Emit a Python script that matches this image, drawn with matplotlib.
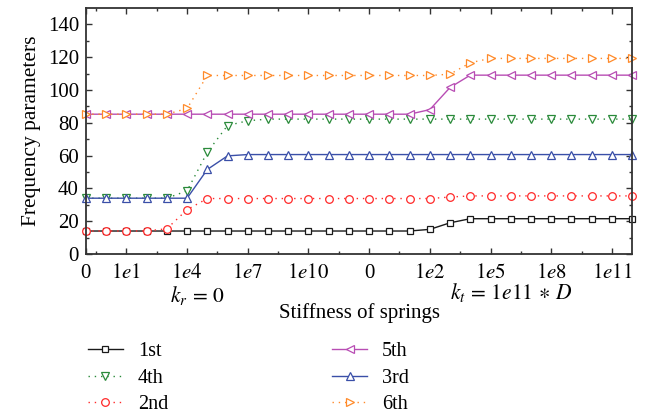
import matplotlib
matplotlib.use("Agg")
import matplotlib.pyplot as plt
import matplotlib.transforms as mtransforms

plt.rcParams['font.family'] = ['Liberation Serif', 'DejaVu Serif']
plt.rcParams['mathtext.fontset'] = 'stix'

# one point per stiffness step (k_r sweep, then k_t sweep)
steps = list(range(28))
tick_pos = [0, 2, 5, 8, 11, 14, 17, 20, 23, 26]
tick_labels = ['0', '$1e1$', '$1e4$', '$1e7$', '$1e10$',
               '0', '$1e2$', '$1e5$', '$1e8$', '$1e11$']

first = [14, 14, 14, 14, 14, 14, 14, 14, 14, 14, 14, 14, 14, 14,
         14, 14, 14, 15, 19, 21.5, 21.5, 21.5, 21.5, 21.5, 21.5, 21.5, 21.5, 21.5]
second = [14, 14, 14, 14, 15.4, 27, 33.8, 33.8, 33.8, 33.8, 33.8, 33.8, 33.8, 33.8,
          33.8, 33.8, 33.8, 33.8, 34.7, 35.4, 35.4, 35.4, 35.4, 35.4, 35.4, 35.4, 35.4, 35.4]
third = [34, 34, 34, 34, 34, 34, 51.5, 59.8, 60.6, 60.6, 60.6, 60.6, 60.6, 60.6,
         60.6, 60.6, 60.6, 60.6, 60.6, 60.6, 60.6, 60.6, 60.6, 60.6, 60.6, 60.6, 60.6, 60.6]
fourth = [34, 34, 34, 34, 34, 38.5, 62, 78.3, 81.2, 82.2, 82.2, 82.2, 82.2, 82.2,
          82.2, 82.2, 82.2, 82.2, 82.2, 82.2, 82.2, 82.2, 82.2, 82.2, 82.2, 82.2, 82.2, 82.2]
fifth = [85.2, 85.2, 85.2, 85.2, 85.2, 85.2, 85.2, 85.2, 85.2, 85.2, 85.2, 85.2, 85.2, 85.2,
         85.2, 85.2, 85.2, 88, 101.5, 109, 109, 109, 109, 109, 109, 109, 109, 109]
sixth = [85.2, 85.2, 85.2, 85.2, 85.2, 88.7, 108.8, 108.8, 108.8, 108.8, 108.8, 108.8, 108.8, 108.8,
         108.8, 108.8, 108.8, 108.8, 109.6, 116.6, 119.2, 119.2, 119.2, 119.2, 119.2, 119.2, 119.2, 119.2]

dots = (0, (1, 3.5))
series = [
    ('1st', first, '#1a1a1a', 's', '-', 5),
    ('4th', fourth, '#2a8a3a', 'v', dots, 6),
    ('2nd', second, '#ff2a2a', 'o', dots, 5.5),
    ('5th', fifth, '#b84db4', '<', '-', 6),
    ('3rd', third, '#3a4fa8', '^', '-', 6),
    ('6th', sixth, '#ff8a2a', '>', dots, 6),
]

fig = plt.figure(figsize=(6.51, 4.15), dpi=100)
ax = fig.add_axes([0.132, 0.388, 0.839, 0.593])

lines = {}
for name, vals, col, mk, ls, ms in series:
    ln, = ax.plot(steps, vals, color=col, marker=mk, linestyle=ls, lw=1.0,
                  ms=ms, mfc='white', mec=col, mew=0.9, clip_on=False, label=name)
    lines[name] = ln

ax.set_xlim(0, 27)
ax.set_ylim(0, 150)
ax.set_xticks(tick_pos)
ax.set_xticklabels(tick_labels)
ax.set_xticks([0.5, 3.5, 6.5, 9.5, 12.5, 15.5, 18.5, 21.5, 24.5], minor=True)
ax.set_yticks([0, 20, 40, 60, 80, 100, 120, 140])
ax.set_yticks([10, 30, 50, 70, 90, 110, 130], minor=True)
ax.tick_params(which='both', direction='in', top=True, right=True,
               labelsize=15, color='#333333')
ax.tick_params(which='major', length=4.5, width=1)
ax.tick_params(which='minor', length=2.5, width=1)
ax.tick_params(axis='x', pad=7)
ax.tick_params(axis='y', pad=5)
for sp in ax.spines.values():
    sp.set_linewidth(1.3)
    sp.set_color('#333333')

ax.set_ylabel('Frequency parameters', fontsize=15.5, labelpad=5)
ax.set_xlabel('Stiffness of springs', fontsize=15, labelpad=15)

trans = mtransforms.blended_transform_factory(ax.transData, fig.transFigure)
ax.text(5.5, 0.289, '$k_r\\,=\\,0$', transform=trans, ha='center', va='center', fontsize=15.5)
ax.text(21, 0.294, '$k_t\\,=\\,1e11\\,\\ast\\,D$', transform=trans, ha='center', va='center', fontsize=15.5)

legend_kw = dict(loc='upper left', frameon=False, fontsize=14.5, numpoints=1,
                 handlelength=1.74, handletextpad=0.75, labelspacing=0.36,
                 borderpad=0, borderaxespad=0)
leg1 = fig.legend([lines['1st'], lines['4th'], lines['2nd']], ['1st', '4th', '2nd'],
                  bbox_to_anchor=(0.135, 0.175), **legend_kw)
leg2 = fig.legend([lines['5th'], lines['3rd'], lines['6th']], ['5th', '3rd', '6th'],
                  bbox_to_anchor=(0.51, 0.175), **legend_kw)

fig.savefig('out.png', dpi=100)
